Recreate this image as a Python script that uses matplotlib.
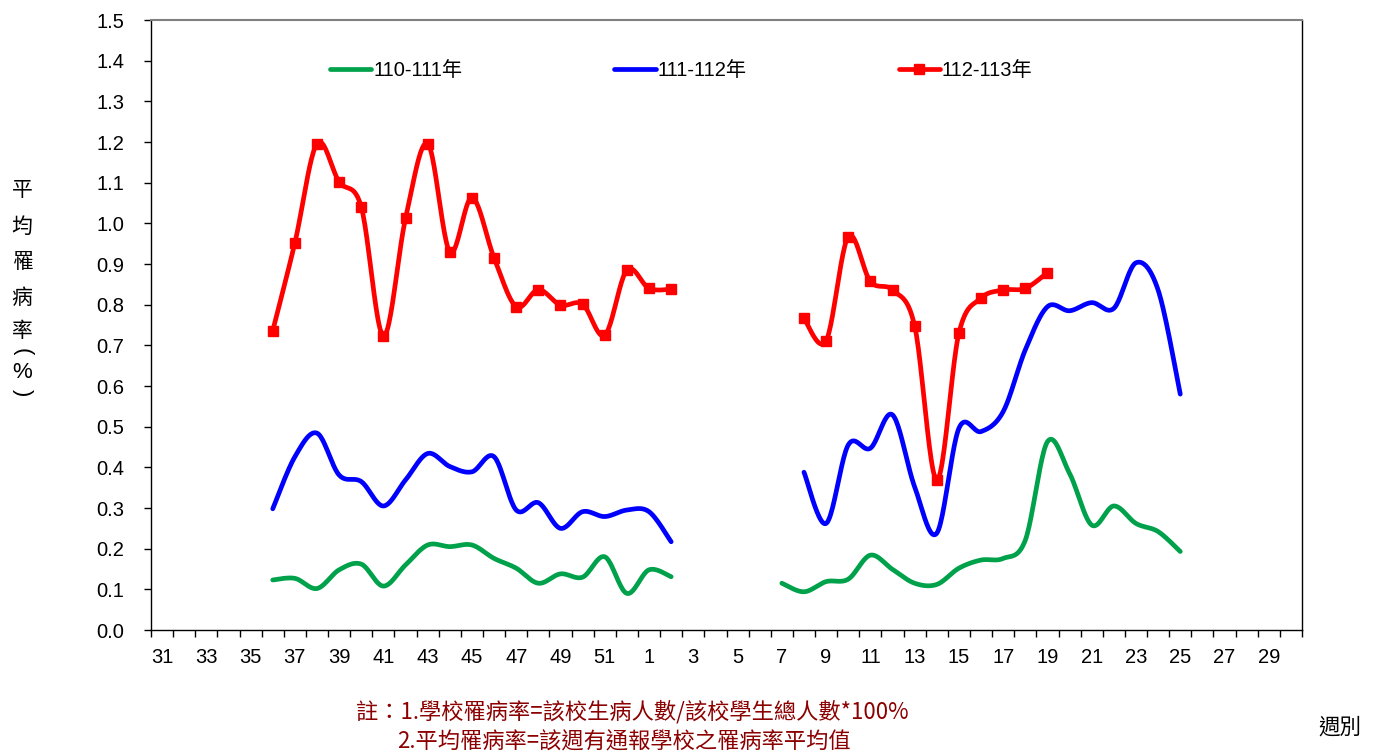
import numpy as np
import matplotlib
matplotlib.use("Agg")
import matplotlib.pyplot as plt
from matplotlib.ticker import FixedLocator, NullFormatter

# ---------------- data ----------------
weeks = list(range(31, 53)) + list(range(1, 31))   # 52 categories
nan = np.nan

s110_111 = ([nan] * 5 +
            [0.123, 0.127, 0.102, 0.148, 0.162, 0.108, 0.160, 0.209, 0.205, 0.209,
             0.176, 0.152, 0.115, 0.138, 0.130, 0.180, 0.090] +
            [0.148, 0.131] + [nan] * 4 +
            [0.115, 0.094, 0.119, 0.125, 0.184, 0.149, 0.115, 0.112, 0.152, 0.172,
             0.176, 0.221, 0.463, 0.385, 0.258, 0.305, 0.262, 0.242, 0.193] +
            [nan] * 5)

s111_112 = ([nan] * 5 +
            [0.298, 0.426, 0.484, 0.381, 0.365, 0.305, 0.369, 0.434, 0.402, 0.389,
             0.426, 0.295, 0.313, 0.250, 0.291, 0.279, 0.295] +
            [0.291, 0.217] + [nan] * 5 +
            [0.388, 0.262, 0.455, 0.447, 0.529, 0.352, 0.238, 0.496, 0.488, 0.537,
             0.689, 0.795, 0.785, 0.805, 0.791, 0.903, 0.836, 0.580] +
            [nan] * 5)

s112_113 = ([nan] * 5 +
            [0.736, 0.952, 1.196, 1.102, 1.040, 0.723, 1.012, 1.196, 0.930, 1.063,
             0.915, 0.795, 0.837, 0.799, 0.801, 0.725, 0.885] +
            [0.840, 0.838] + [nan] * 5 +
            [0.766, 0.711, 0.967, 0.857, 0.836, 0.748, 0.369, 0.730, 0.816, 0.836,
             0.840, 0.879] +
            [nan] * 11)

series_names = ["110-111年", "111-112年", "112-113年"]
series_vals = [s110_111, s111_112, s112_113]
series_colors = ["#00A14B", "#0000FF", "#FF0000"]
series_markers = [None, None, "s"]

yticks = [round(0.1 * i, 1) for i in range(16)]
ylabel_chars = ["平", "均", "罹", "病", "率"]
note1 = "註：1.學校罹病率=該校生病人數/該校學生總人數*100%"
note2 = "2.平均罹病率=該週有通報學校之罹病率平均值"
xlabel_text = "週別"

FONT = ["Liberation Sans", "Noto Sans CJK TC", "DejaVu Sans"]
CJK = ["Noto Sans CJK TC", "DejaVu Sans"]
plt.rcParams["font.family"] = FONT


def smooth_segments(y):
    """Excel-like smoothing (Catmull-Rom / Bezier) per contiguous segment."""
    y = np.asarray(y, float)
    x = np.arange(len(y), dtype=float)
    ok = ~np.isnan(y)
    segs = []
    i = 0
    n = len(y)
    while i < n:
        if not ok[i]:
            i += 1
            continue
        j = i
        while j + 1 < n and ok[j + 1]:
            j += 1
        px, py = x[i:j + 1], y[i:j + 1]
        m = len(px)
        if m == 1:
            segs.append((px, py))
        else:
            xs, ys = [], []
            t = np.linspace(0, 1, 25)
            for k in range(m - 1):
                p0 = np.array([px[max(k - 1, 0)], py[max(k - 1, 0)]])
                p1 = np.array([px[k], py[k]])
                p2 = np.array([px[k + 1], py[k + 1]])
                p3 = np.array([px[min(k + 2, m - 1)], py[min(k + 2, m - 1)]])
                c1 = p1 + (p2 - p0) / 6.0
                c2 = p2 - (p3 - p1) / 6.0
                b = ((1 - t) ** 3)[:, None] * p1 + (3 * (1 - t) ** 2 * t)[:, None] * c1 \
                    + (3 * (1 - t) * t ** 2)[:, None] * c2 + (t ** 3)[:, None] * p2
                xs.extend(b[:, 0]); ys.extend(b[:, 1])
            segs.append((np.array(xs), np.array(ys)))
        i = j + 1
    return segs


fig = plt.figure(figsize=(13.81, 7.56), dpi=100)
ax = fig.add_axes([151 / 1381, 1 - 630 / 756, 1151 / 1381, 610 / 756])

xidx = np.arange(len(weeks))
for name, vals, col, mk in zip(series_names, series_vals, series_colors, series_markers):
    first = True
    for sx, sy in smooth_segments(vals):
        ax.plot(sx, sy, color=col, lw=3.4, solid_capstyle="round",
                solid_joinstyle="round", label=name if first else None, zorder=3)
        first = False
    if mk:
        ax.plot(xidx, vals, linestyle="none", marker=mk, markersize=7.8,
                color=col, zorder=4)

ax.set_xlim(-0.5, len(weeks) - 0.5)
ax.set_ylim(0, 1.5)

ax.set_yticks(yticks)
ax.set_yticklabels([f"{v:.1f}" for v in yticks])
ax.tick_params(axis="y", direction="out", length=5, width=1, pad=14, labelsize=14.5)

lab_idx = list(range(0, len(weeks), 2))
ax.xaxis.set_major_locator(FixedLocator(lab_idx))
ax.set_xticklabels([str(weeks[i]) for i in lab_idx])
ax.xaxis.set_minor_locator(FixedLocator(np.arange(-0.5, len(weeks) + 0.5, 1)))
ax.xaxis.set_minor_formatter(NullFormatter())
ax.tick_params(axis="x", which="major", length=0, pad=13, labelsize=14.5)
ax.tick_params(axis="x", which="minor", direction="out", length=5, width=1)

for sp in ["left", "bottom", "right"]:
    ax.spines[sp].set_color("black")
    ax.spines[sp].set_linewidth(1)
ax.spines["top"].set_color("#808080")
ax.spines["top"].set_linewidth(1.5)

# legend
h, l = ax.get_legend_handles_labels()
leg = fig.legend(h, l, loc="center left", bbox_to_anchor=(330 / 1381, 1 - 71 / 756),
                 ncol=3, frameon=False, fontsize=14.5, handlelength=2.05,
                 handletextpad=0.1, columnspacing=7.55, borderpad=0, borderaxespad=0)
lh = leg.legend_handles[2]
lh.set_marker("s")
lh.set_markersize(7.8)
lh.set_markevery([1])

# y label (vertical characters)
ys = [190, 227, 262, 298, 331]
for ch, yy in zip(ylabel_chars, ys):
    fig.text(22 / 1381, 1 - yy / 756, ch, ha="center", va="center",
             fontsize=15, family=CJK)
fig.text(22 / 1381, 1 - 352 / 756, "(", ha="center", va="center", rotation=-90,
         fontsize=16, family=FONT)
fig.text(22 / 1381, 1 - 372 / 756, "%", ha="center", va="center",
         fontsize=16, family=FONT)
fig.text(22 / 1381, 1 - 393 / 756, ")", ha="center", va="center", rotation=-90,
         fontsize=16, family=FONT)

# notes
fig.text(356 / 1381, 1 - 712 / 756, note1, ha="left", va="center",
         fontsize=16, color="#8B0000", family=CJK)
fig.text(397 / 1381, 1 - 742 / 756, note2, ha="left", va="center",
         fontsize=16, color="#8B0000", family=CJK)
fig.text(1340 / 1381, 1 - 728 / 756, xlabel_text, ha="center", va="center",
         fontsize=15.5, color="black", family=CJK)

fig.savefig("out.png", dpi=100)
